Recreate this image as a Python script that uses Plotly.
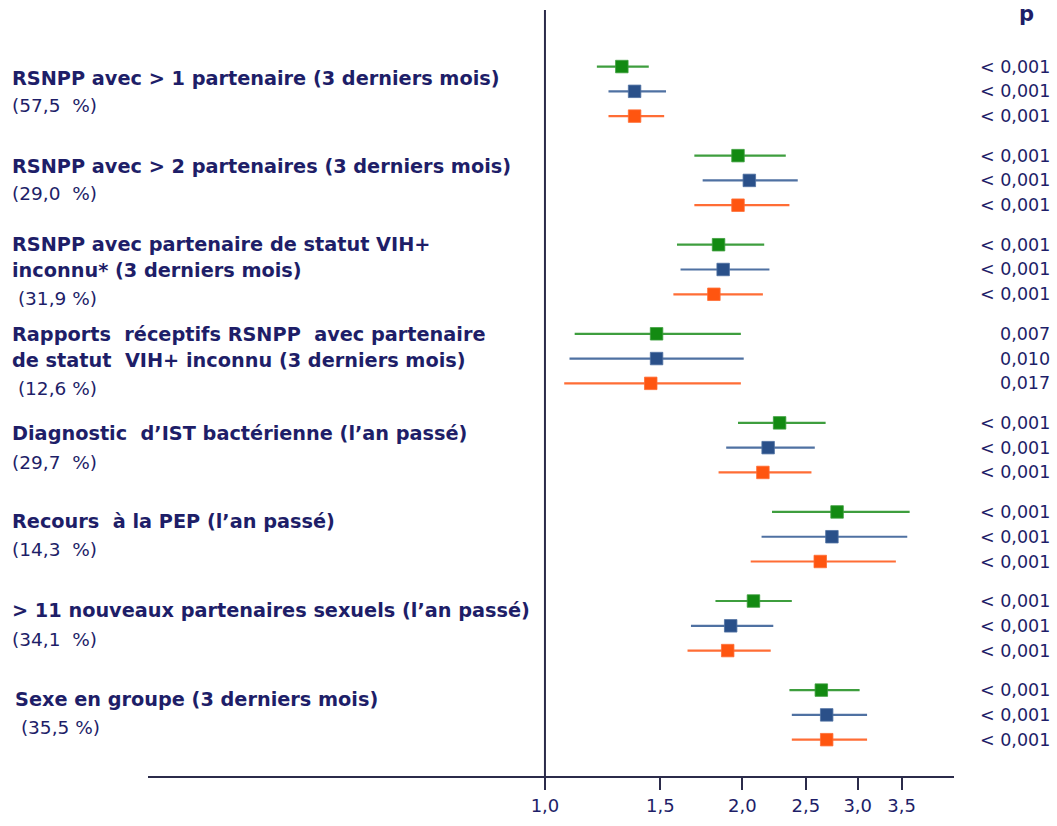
import plotly.graph_objects as go
import math

# ---------------- data ----------------
categories = [
    "RSNPP avec &gt; 1 partenaire (3 derniers mois)",
    "RSNPP avec &gt; 2 partenaires (3 derniers mois)",
    "RSNPP avec partenaire de statut VIH+|inconnu* (3 derniers mois)",
    "Rapports\u00a0 réceptifs RSNPP\u00a0 avec partenaire|de statut\u00a0 VIH+ inconnu (3 derniers mois)",
    "Diagnostic\u00a0 d’IST bactérienne (l’an passé)",
    "Recours\u00a0 à la PEP (l’an passé)",
    "&gt; 11 nouveaux partenaires sexuels (l’an passé)",
    "Sexe en groupe (3 derniers mois)",
]
prevalence = ["(57,5\u00a0 %)", "(29,0\u00a0 %)", "\u00a0(31,9 %)", "\u00a0(12,6 %)",
              "(29,7\u00a0 %)", "(14,3\u00a0 %)", "(34,1\u00a0 %)", "\u00a0(35,5 %)"]

or_green = [1.31, 1.97, 1.84, 1.48, 2.28, 2.79, 2.08, 2.64]
lo_green = [1.20, 1.69, 1.59, 1.11, 1.97, 2.22, 1.82, 2.36]
hi_green = [1.44, 2.33, 2.16, 1.99, 2.68, 3.60, 2.38, 3.02]

or_blue = [1.37, 2.05, 1.87, 1.48, 2.19, 2.74, 1.92, 2.69]
lo_blue = [1.25, 1.74, 1.61, 1.09, 1.89, 2.14, 1.67, 2.38]
hi_blue = [1.53, 2.43, 2.20, 2.01, 2.58, 3.57, 2.23, 3.10]

or_orange = [1.37, 1.97, 1.81, 1.45, 2.15, 2.63, 1.90, 2.69]
lo_orange = [1.25, 1.69, 1.57, 1.07, 1.84, 2.06, 1.65, 2.38]
hi_orange = [1.52, 2.36, 2.15, 1.99, 2.55, 3.43, 2.21, 3.10]

p_green = ["&lt; 0,001", "&lt; 0,001", "&lt; 0,001", "0,007", "&lt; 0,001", "&lt; 0,001", "&lt; 0,001", "&lt; 0,001"]
p_blue = ["&lt; 0,001", "&lt; 0,001", "&lt; 0,001", "0,010", "&lt; 0,001", "&lt; 0,001", "&lt; 0,001", "&lt; 0,001"]
p_orange = ["&lt; 0,001", "&lt; 0,001", "&lt; 0,001", "0,017", "&lt; 0,001", "&lt; 0,001", "&lt; 0,001", "&lt; 0,001"]

tick_vals = [1.0, 1.5, 2.0, 2.5, 3.0, 3.5]
tick_text = ["1,0", "1,5", "2,0", "2,5", "3,0", "3,5"]

# ---------------- layout helpers ----------------
NAVY = "#1e1e68"
FONT = "DejaVu Sans, Verdana, sans-serif"
GROUP_STEP = 3.594
series = [
    (or_green, lo_green, hi_green, p_green, "#138a12", "#3e9e3e"),
    (or_blue, lo_blue, hi_blue, p_blue, "#2a5089", "#4f71a2"),
    (or_orange, lo_orange, hi_orange, p_orange, "#ff5510", "#ff6d35"),
]

TOP, BOTTOM, LEFT, RIGHT = 10, 778, 148, 954


def py2paper(py):
    return (BOTTOM - py) / (BOTTOM - TOP)


def px2paper(px):
    return (px - LEFT) / (RIGHT - LEFT)


fig = go.Figure()
annotations = []
for s, (orv, lo, hi, pv, mcol, lcol) in enumerate(series):
    ys = [g * GROUP_STEP + s for g in range(len(categories))]
    lx, ly = [], []
    for g in range(len(categories)):
        lx += [lo[g], hi[g], None]
        ly += [ys[g], ys[g], None]
    fig.add_trace(go.Scatter(x=lx, y=ly, mode="lines",
                             line=dict(color=lcol, width=2.2),
                             hoverinfo="skip", showlegend=False))
    fig.add_trace(go.Scatter(x=orv, y=ys, mode="markers",
                             marker=dict(symbol="square", size=12.5, color=mcol,
                                         line=dict(color=lcol, width=0.8)),
                             showlegend=False))
    for g in range(len(categories)):
        annotations.append(dict(x=px2paper(1052), xref="paper", y=ys[g], yref="y",
                                text=pv[g], showarrow=False, xanchor="right",
                                yanchor="middle",
                                font=dict(family=FONT, size=17.5, color=NAVY)))

# left labels (pixel centres of text lines)
label_rows = [[79, 106], [167, 194], [245, 271, 299], [335, 361, 389],
              [435, 464], [523, 551], [612, 641], [701, 729]]
label_x = [10, 10, 10, 10, 10, 10, 10, 13]

for g, cat in enumerate(categories):
    lines = cat.split("|")
    rows = label_rows[g]
    for i, ln in enumerate(lines):
        annotations.append(dict(x=px2paper(label_x[g]), xref="paper", y=py2paper(rows[i]), yref="paper",
                                text="<b>" + ln + "</b>", showarrow=False,
                                xanchor="left", yanchor="middle",
                                font=dict(family=FONT, size=19.3, color=NAVY)))
    annotations.append(dict(x=px2paper(label_x[g]), xref="paper", y=py2paper(rows[len(lines)]), yref="paper",
                            text=prevalence[g], showarrow=False,
                            xanchor="left", yanchor="middle",
                            font=dict(family=FONT, size=18.5, color=NAVY)))

annotations.append(dict(x=px2paper(1026), xref="paper", y=py2paper(14), yref="paper",
                        text="<b>p</b>", showarrow=False, xanchor="center", yanchor="middle",
                        font=dict(family=FONT, size=21, color=NAVY)))

y_top = (TOP - 66.7) / 24.85
y_bot = (BOTTOM - 66.7) / 24.85

fig.update_layout(
    width=1057, height=826,
    margin=dict(l=LEFT, r=1057 - RIGHT, t=TOP, b=826 - BOTTOM, pad=0),
    paper_bgcolor="white", plot_bgcolor="white",
    annotations=annotations,
    xaxis=dict(type="log", range=[math.log10(0.248), math.log10(4.207)],
               tickvals=tick_vals, ticktext=tick_text, showgrid=False, zeroline=False,
               showline=True, linecolor="#2b2b4a", linewidth=2,
               ticks="outside", ticklen=12, tickwidth=2, tickcolor="#2b2b4a",
               tickfont=dict(family=FONT, size=18, color=NAVY)),
    yaxis=dict(range=[y_bot, y_top], visible=False, showgrid=False, zeroline=False),
    shapes=[dict(type="line", xref="x", yref="paper", x0=1.0, x1=1.0, y0=0, y1=1,
                 line=dict(color="#2b2b4a", width=2))],
)

fig.write_html("out.html", config={"displayModeBar": False},
               post_script="document.body.style.margin='0';")
